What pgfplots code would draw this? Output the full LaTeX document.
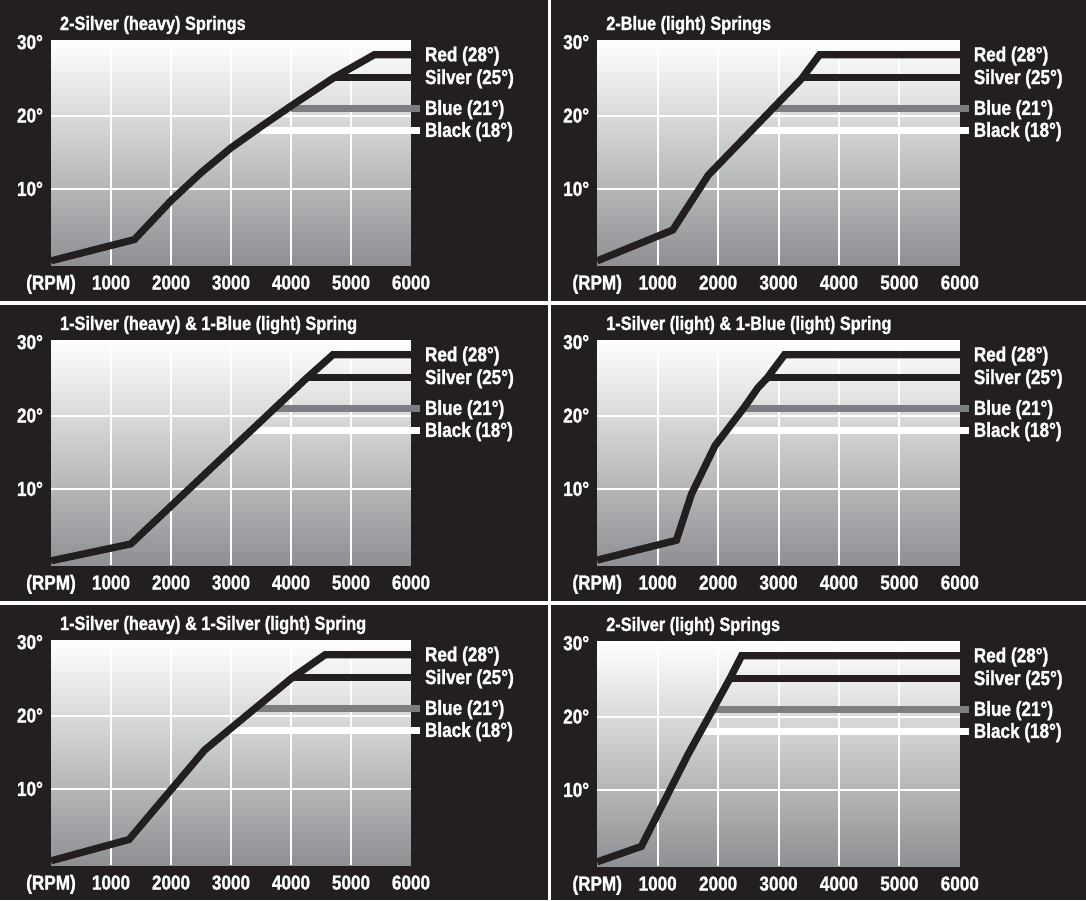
\documentclass[border=0pt]{standalone}
\usepackage{fontspec}
\setmainfont{Liberation Sans}[FakeStretch=0.84, BoldFeatures={FakeBold=1.3}]
\usepackage{pgfplots}
\pgfplotsset{compat=1.18}
\definecolor{panelbg}{RGB}{35,31,32}
\definecolor{shadebot}{RGB}{143,144,147}
\definecolor{bluegray}{RGB}{125,126,129}
\pgfplotsset{
 panel/.style={
  scale only axis, width=180pt, height=112.5pt,
  xmin=0,xmax=6000,ymin=-0.37,ymax=30.3,
  axis line style={draw=none},
  major tick length=0pt,
  xtick={1000,2000,3000,4000,5000}, xticklabels={1000,2000,3000,4000,5000},
  extra x ticks={0,6000}, extra x tick labels={(RPM),6000},
  extra x tick style={grid=none},
  ytick={10,20}, yticklabels={10°,20°},
  extra y ticks={30}, extra y tick labels={30°},
  extra y tick style={grid=none},
  grid=major,
  major grid style={white,line width=1pt},
  axis background/.style={shade,top color=white,bottom color=shadebot},
  tick label style={white,font=\bfseries\fontsize{10.2}{12}\selectfont},
  xticklabel style={anchor=base,yshift=-12.3pt},
  yticklabel style={xshift=-0.5pt},
  clip=false,
 },
 curve/.style={draw=panelbg,line width=3.6pt,line join=miter},
 hred/.style={draw=panelbg,line width=3.3pt},
 hblue/.style={draw=bluegray,line width=3.3pt},
 hblack/.style={draw=white,line width=3.3pt},
}
\newcommand\lbls{%
 \node[anchor=base west,white,font=\bfseries\fontsize{10.2}{12}\selectfont,xshift=3.5pt,yshift=-3.7pt] at (axis cs:6000,28.4) {Red (28°)};
 \node[anchor=base west,white,font=\bfseries\fontsize{10.2}{12}\selectfont,xshift=3.5pt,yshift=-3.7pt] at (axis cs:6000,25.3) {Silver (25°)};
 \node[anchor=base west,white,font=\bfseries\fontsize{10.2}{12}\selectfont,xshift=3.5pt,yshift=-3.7pt] at (axis cs:6000,21.1) {Blue (21°)};
 \node[anchor=base west,white,font=\bfseries\fontsize{10.2}{12}\selectfont,xshift=3.5pt,yshift=-3.7pt] at (axis cs:6000,18.1) {Black (18°)};
}
\newcommand\ttl[1]{%
 \node[anchor=base west,white,font=\bfseries\fontsize{9.7}{11}\selectfont,xshift=1pt,yshift=5pt] at (rel axis cs:0,1) {#1};
}
\begin{document}
\begin{tikzpicture}
\useasboundingbox (0,0) rectangle (543pt,-450pt);
\fill[panelbg] (0,0) rectangle (543pt,-450pt);
\fill[white] (274pt,0) rectangle (275.5pt,-450pt);
\fill[white] (0,-150.4pt) rectangle (543pt,-152.4pt);
\fill[white] (0,-300.5pt) rectangle (543pt,-302.5pt);

% Panel 1
\begin{axis}[panel,at={(25.5pt,-20pt)},anchor=north west]
\addplot[hblack] coordinates {(3480,18) (6150,18)};
\addplot[hblue] coordinates {(4000,21) (6150,21)};
\addplot[hred] coordinates {(4720,25.2) (6000,25.2)};
\addplot[curve] coordinates {(0,0.2) (1390,3.1) (2000,8.4) (2500,12.2) (3000,15.6) (3500,18.5) (4000,21.3) (4720,25.2) (5390,28.3) (6000,28.3)};
\lbls
\ttl{2-Silver (heavy) Springs}
\end{axis}

% Panel 2
\begin{axis}[panel,width=181.3pt,at={(298.6pt,-20pt)},anchor=north west]
\addplot[hblack] coordinates {(2580,18) (6150,18)};
\addplot[hblue] coordinates {(2940,21) (6150,21)};
\addplot[hred] coordinates {(3380,25.2) (6000,25.2)};
\addplot[curve] coordinates {(0,0.2) (1250,4.4) (1840,11.9) (3380,25.0) (3680,28.3) (6000,28.3)};
\lbls
\ttl{2-Blue (light) Springs}
\end{axis}

% Panel 3
\begin{axis}[panel,at={(25.5pt,-170pt)},anchor=north west]
\addplot[hblack] coordinates {(3370,18) (6150,18)};
\addplot[hblue] coordinates {(3700,21) (6150,21)};
\addplot[hred] coordinates {(4260,25.2) (6000,25.2)};
\addplot[curve] coordinates {(0,0.2) (1330,2.5) (4260,25.1) (4700,28.3) (6000,28.3)};
\lbls
\ttl{1-Silver (heavy) \& 1-Blue (light) Spring}
\end{axis}

% Panel 4
\begin{axis}[panel,width=181.3pt,at={(298.6pt,-170pt)},anchor=north west]
\addplot[hblack] coordinates {(2160,18) (6150,18)};
\addplot[hblue] coordinates {(2470,21) (6150,21)};
\addplot[hred] coordinates {(2810,25.2) (6000,25.2)};
\addplot[curve] coordinates {(0,0.3) (1310,3.0) (1560,9.3) (1950,15.9) (2440,21.2) (2660,23.8) (2810,25.1) (3100,28.3) (6000,28.3)};
\lbls
\ttl{1-Silver (light) \& 1-Blue (light) Spring}
\end{axis}

% Panel 5
\begin{axis}[panel,at={(25.5pt,-320pt)},anchor=north west]
\addplot[hblack] coordinates {(3010,18) (6150,18)};
\addplot[hblue] coordinates {(3430,21) (6150,21)};
\addplot[hred] coordinates {(4010,25.2) (6000,25.2)};
\addplot[curve] coordinates {(0,0.2) (1300,3.1) (2560,15.3) (4010,25.1) (4570,28.3) (6000,28.3)};
\lbls
\ttl{1-Silver (heavy) \& 1-Silver (light) Spring}
\end{axis}

% Panel 6
\begin{axis}[panel,width=181.3pt,at={(298.6pt,-320.5pt)},anchor=north west]
\addplot[hblack] coordinates {(1725,18) (6150,18)};
\addplot[hblue] coordinates {(1920,21) (6150,21)};
\addplot[hred] coordinates {(2190,25.2) (6000,25.2)};
\addplot[curve] coordinates {(0,0.2) (730,2.3) (1500,14.8) (2190,25.1) (2390,28.3) (6000,28.3)};
\lbls
\ttl{2-Silver (light) Springs}
\end{axis}
\end{tikzpicture}
\end{document}
